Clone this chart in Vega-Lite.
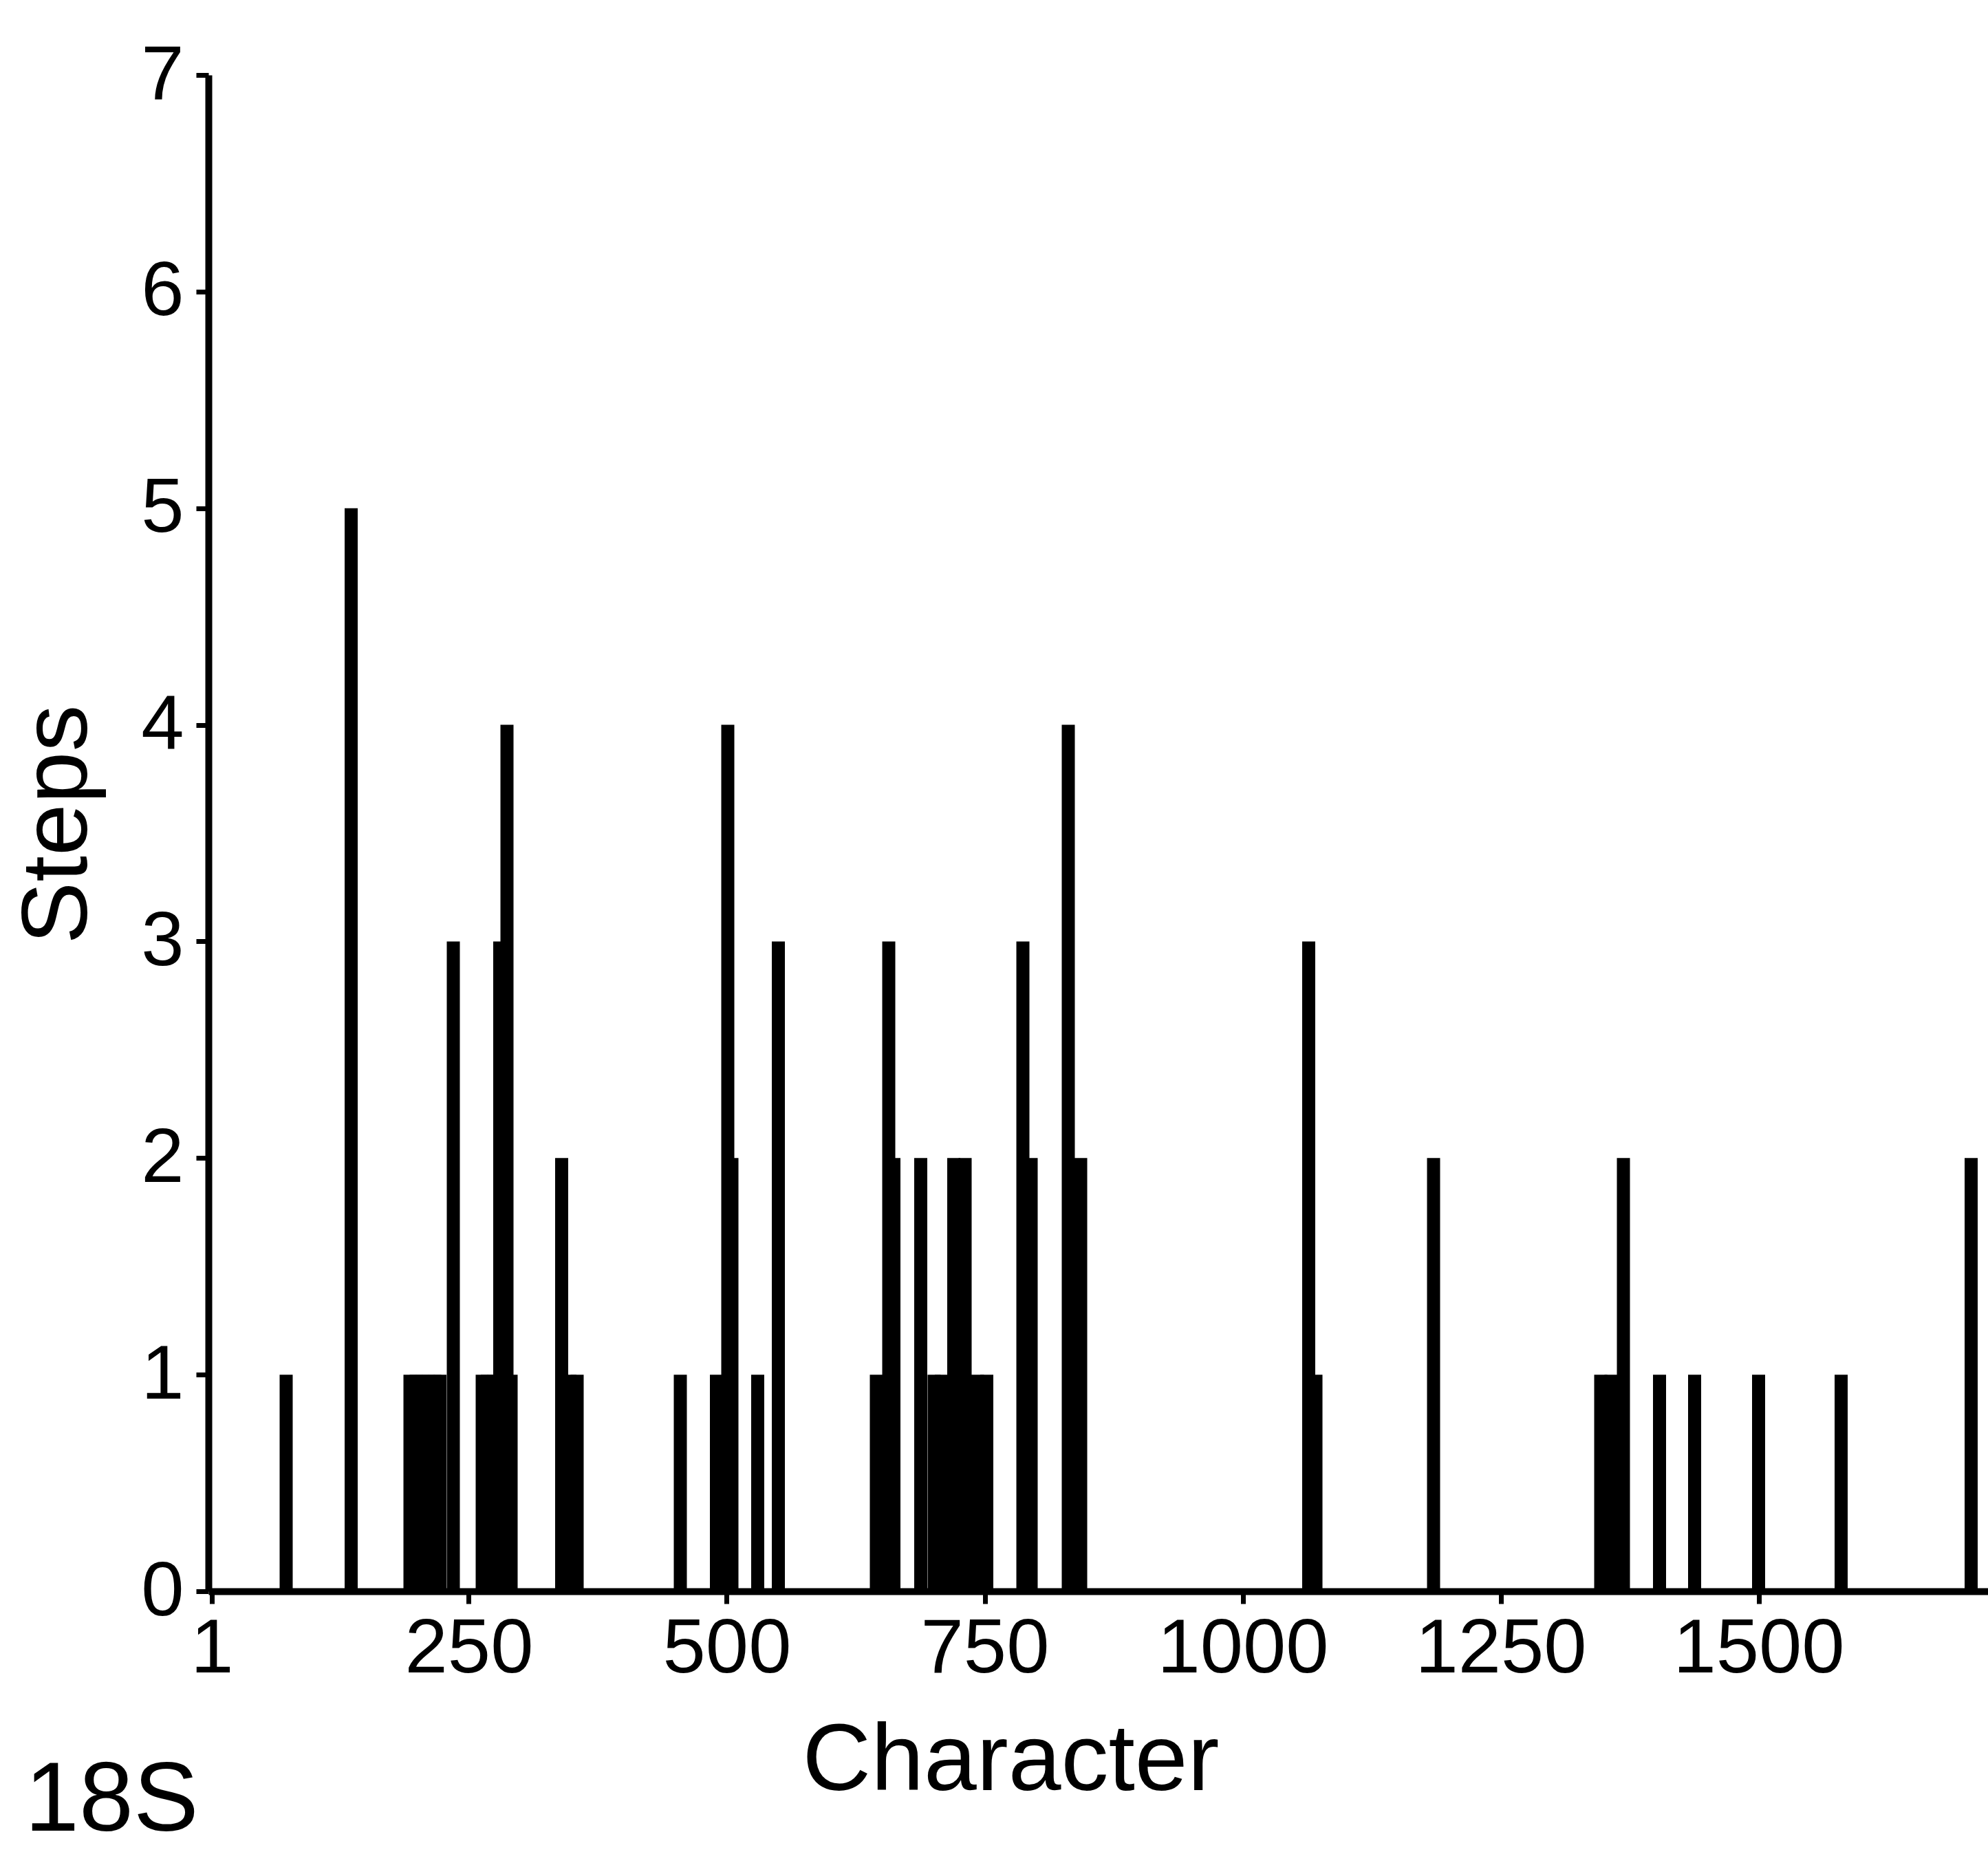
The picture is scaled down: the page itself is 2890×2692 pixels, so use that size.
{
  "$schema": "https://vega.github.io/schema/vega-lite/v6.json",
  "autosize": {"type": "none"},
  "padding": {"left": 303, "top": 109, "right": 0, "bottom": 379},
  "width": 2587,
  "height": 2204,
  "background": "white",
  "config": {"view": {"stroke": null}, "font": "Liberation Sans"},
  "title": {
    "text": "18S",
    "orient": "bottom",
    "anchor": "start",
    "frame": "group",
    "font": "Liberation Sans",
    "fontSize": 142,
    "fontWeight": "normal",
    "color": "black",
    "dx": -267,
    "offset": -80,
    "baseline": "top"
  },
  "data": {
    "values": [
      {"character": 73, "steps": 1},
      {"character": 136, "steps": 5},
      {"character": 193, "steps": 1},
      {"character": 199, "steps": 1},
      {"character": 205, "steps": 1},
      {"character": 211, "steps": 1},
      {"character": 217, "steps": 1},
      {"character": 222, "steps": 1},
      {"character": 235, "steps": 3},
      {"character": 263, "steps": 1},
      {"character": 268, "steps": 1},
      {"character": 274, "steps": 1},
      {"character": 280, "steps": 3},
      {"character": 287, "steps": 4},
      {"character": 291, "steps": 1},
      {"character": 340, "steps": 2},
      {"character": 348, "steps": 1},
      {"character": 355, "steps": 1},
      {"character": 455, "steps": 1},
      {"character": 490, "steps": 1},
      {"character": 501, "steps": 4},
      {"character": 505, "steps": 2},
      {"character": 530, "steps": 1},
      {"character": 550, "steps": 3},
      {"character": 645, "steps": 1},
      {"character": 657, "steps": 3},
      {"character": 662, "steps": 2},
      {"character": 688, "steps": 2},
      {"character": 701, "steps": 1},
      {"character": 708, "steps": 1},
      {"character": 720, "steps": 2},
      {"character": 731, "steps": 2},
      {"character": 743, "steps": 1},
      {"character": 752, "steps": 1},
      {"character": 787, "steps": 3},
      {"character": 795, "steps": 2},
      {"character": 831, "steps": 4},
      {"character": 843, "steps": 2},
      {"character": 1064, "steps": 3},
      {"character": 1071, "steps": 1},
      {"character": 1185, "steps": 2},
      {"character": 1347, "steps": 1},
      {"character": 1357, "steps": 1},
      {"character": 1369, "steps": 2},
      {"character": 1404, "steps": 1},
      {"character": 1438, "steps": 1},
      {"character": 1500, "steps": 1},
      {"character": 1580, "steps": 1},
      {"character": 1706, "steps": 2}
    ]
  },
  "mark": {"type": "bar", "size": 19, "color": "black"},
  "encoding": {
    "x": {
      "field": "character",
      "type": "quantitative",
      "scale": {"domain": [1, 1719], "nice": false, "zero": false},
      "axis": {
        "title": "Character",
        "values": [1, 250, 500, 750, 1000, 1250, 1500],
        "format": "d",
        "grid": false,
        "domainColor": "black",
        "domainWidth": 10,
        "tickColor": "black",
        "tickWidth": 7,
        "tickSize": 18,
        "labelFont": "Liberation Sans",
        "labelFontSize": 112,
        "labelColor": "black",
        "labelPadding": 11,
        "labelLimit": 0,
        "labelFlush": false,
        "labelOverlap": false,
        "titleFont": "Liberation Sans",
        "titleFontSize": 138,
        "titleFontWeight": "normal",
        "titleColor": "black",
        "titleX": 1166,
        "titleY": 288,
        "titleAlign": "center",
        "titleBaseline": "alphabetic"
      }
    },
    "y": {
      "field": "steps",
      "type": "quantitative",
      "scale": {"domain": [0, 7], "nice": false},
      "axis": {
        "title": "Steps",
        "values": [0, 1, 2, 3, 4, 5, 6, 7],
        "format": "d",
        "grid": false,
        "domainColor": "black",
        "domainWidth": 10,
        "tickColor": "black",
        "tickWidth": 7,
        "tickSize": 18,
        "labelFont": "Liberation Sans",
        "labelFontSize": 112,
        "labelColor": "black",
        "labelPadding": 18,
        "labelLimit": 0,
        "labelFlush": false,
        "labelOverlap": false,
        "titleFont": "Liberation Sans",
        "titleFontSize": 136,
        "titleFontWeight": "normal",
        "titleColor": "black",
        "titleAngle": -90,
        "titleX": -178,
        "titleY": 1089,
        "titleAlign": "center",
        "titleBaseline": "alphabetic"
      }
    }
  }
}
